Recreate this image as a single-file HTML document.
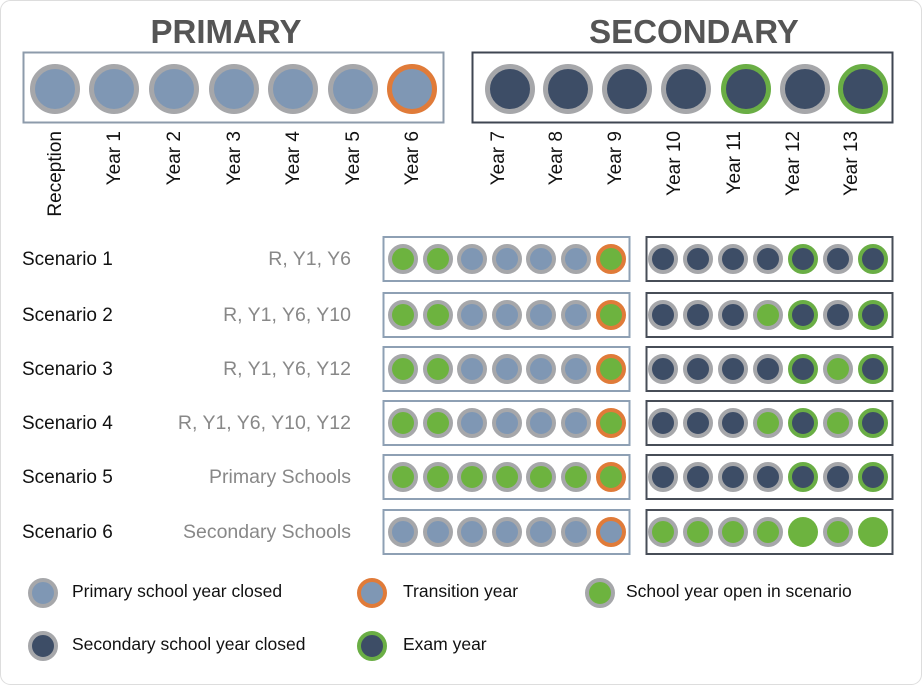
<!DOCTYPE html>
<html><head><meta charset="utf-8"><style>
body{margin:0;background:#fff}
svg{display:block}
text{font-family:"Liberation Sans",Arial,sans-serif}
</style></head><body>
<svg id="s" width="923" height="686" xmlns="http://www.w3.org/2000/svg">
<rect x="0.5" y="0.5" width="921" height="684" rx="10" fill="#fff" stroke="#ddd"/>
<text x="226" y="43" font-size="33" font-weight="bold" fill="#555" text-anchor="middle">PRIMARY</text>
<text x="694" y="43" font-size="33" font-weight="bold" fill="#555" text-anchor="middle">SECONDARY</text>
<rect x="23.5" y="52.5" width="420" height="70" fill="none" stroke="#8d9bab" stroke-width="2"/>
<rect x="472.5" y="52.5" width="420" height="70" fill="none" stroke="#3f4652" stroke-width="2"/>
<g font-size="19" fill="#111" text-anchor="end">
<text transform="translate(61,131) rotate(-90)">Reception</text>
<text transform="translate(120,131) rotate(-90)">Year 1</text>
<text transform="translate(180,131) rotate(-90)">Year 2</text>
<text transform="translate(240,131) rotate(-90)">Year 3</text>
<text transform="translate(299,131) rotate(-90)">Year 4</text>
<text transform="translate(359,131) rotate(-90)">Year 5</text>
<text transform="translate(418,131) rotate(-90)">Year 6</text>
<text transform="translate(504,131) rotate(-90)">Year 7</text>
<text transform="translate(562,131) rotate(-90)">Year 8</text>
<text transform="translate(621,131) rotate(-90)">Year 9</text>
<text transform="translate(680,131) rotate(-90)">Year 10</text>
<text transform="translate(740,131) rotate(-90)">Year 11</text>
<text transform="translate(799,131) rotate(-90)">Year 12</text>
<text transform="translate(857,131) rotate(-90)">Year 13</text>
</g>
<g font-size="19" fill="#111">
<text x="22" y="265">Scenario 1</text>
<text x="22" y="321">Scenario 2</text>
<text x="22" y="375">Scenario 3</text>
<text x="22" y="429">Scenario 4</text>
<text x="22" y="483">Scenario 5</text>
<text x="22" y="538">Scenario 6</text>
</g>
<g font-size="19.5" fill="#888" text-anchor="end">
<text x="351" y="265">R, Y1, Y6</text>
<text x="351" y="321">R, Y1, Y6, Y10</text>
<text x="351" y="375">R, Y1, Y6, Y12</text>
<text x="351" y="429">R, Y1, Y6, Y10, Y12</text>
<text x="351" y="483">Primary Schools</text>
<text x="351" y="538">Secondary Schools</text>
</g>
<g font-size="17.5" fill="#111">
<text x="72" y="597">Primary school year closed</text>
<text x="403" y="597">Transition year</text>
<text x="626" y="597">School year open in scenario</text>
<text x="72" y="650">Secondary school year closed</text>
<text x="403" y="650">Exam year</text>
</g>
<g id="c"></g>
</svg>
<script>
var g=document.getElementById('c'),NS='http://www.w3.org/2000/svg';
var P='#7f97b4',S='#3d4d66',G='#6db33f',GR='#a6a7aa',O='#e07b39',E='#6aae45';
function c(x,y,r,f,st,sw){var e=document.createElementNS(NS,'circle');e.setAttribute('cx',x);e.setAttribute('cy',y);e.setAttribute('r',r);e.setAttribute('fill',f);if(st){e.setAttribute('stroke',st);e.setAttribute('stroke-width',sw);}g.appendChild(e);}
function rect(x,y,w,h,st){var e=document.createElementNS(NS,'rect');e.setAttribute('x',x);e.setAttribute('y',y);e.setAttribute('width',w);e.setAttribute('height',h);e.setAttribute('fill','none');e.setAttribute('stroke',st);e.setAttribute('stroke-width',2);g.appendChild(e);}
var px=[55,114,174,234,293,353,412],sx=[510,568,627,686,746,805,863];
px.forEach(function(x,i){c(x,89,22.5,P,i==6?O:GR,5);});
sx.forEach(function(x,i){c(x,89,22.5,S,(i==4||i==6)?E:GR,5);});
var ys=[259,315,369,423,477,532];
var lx=[403,438,472,507,541,576,611],rx=[663,698,733,768,803,838,873];
var openP=[[1,1,0,0,0,0,1],[1,1,0,0,0,0,1],[1,1,0,0,0,0,1],[1,1,0,0,0,0,1],[1,1,1,1,1,1,1],[0,0,0,0,0,0,0]];
var openS=[[0,0,0,0,0,0,0],[0,0,0,1,0,0,0],[0,0,0,0,0,1,0],[0,0,0,1,0,1,0],[0,0,0,0,0,0,0],[1,1,1,1,1,1,1]];
ys.forEach(function(y,r){
 rect(383.5,y-22,246,44,'#8ea0b4');rect(646.5,y-22,246,44,'#474d57');
 lx.forEach(function(x,i){c(x,y,13,openP[r][i]?G:P,i==6?O:GR,4);});
 rx.forEach(function(x,i){var ex=(i==4||i==6),o=openS[r][i];
  if(ex&&o)c(x,y,15,G);else c(x,y,13,o?G:S,ex?E:GR,4);});
});
c(43,593,13,P,GR,4);c(372,593,13,P,O,4);c(600,593,13,G,GR,4);
c(43,646,13,S,GR,4);c(372,646,13,S,E,4);
</script>
</body></html>
